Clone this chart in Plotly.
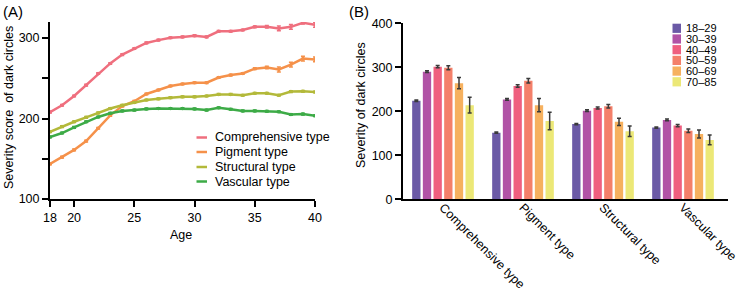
import plotly.graph_objects as go

# ---------------- Data ----------------
ages = list(range(18, 41))
comprehensive = [208, 216.5, 228, 241.5, 256, 268.5, 279.5, 287, 294, 297.5, 300.5, 301.5,
                 303, 301.5, 308.5, 308.5, 310, 314, 314, 312, 314, 319, 316.5]
pigment = [143.5, 152, 161, 172, 188, 204, 215.5, 221.5, 230.5, 235.5, 240.5, 243,
           244.5, 244.5, 251, 254, 256, 262, 263.5, 261, 267, 274.5, 273.5]
structural = [183.5, 190, 196, 201.5, 207, 212.5, 216.5, 220, 223, 224.5, 226, 227,
              227, 228, 230, 230, 229, 231.5, 231.5, 229, 233.5, 234, 233]
vascular = [177, 182, 189, 196, 202, 206.5, 209.5, 210.5, 212, 212.5, 212.5, 212.5,
            212, 210.5, 213.5, 211.5, 209.5, 209.5, 209, 208.5, 205, 205.5, 203.5]
comprehensive_err = [1] * 18 + [1.5, 3, 3, 1.5, 3]
pigment_err = [1] * 18 + [1.5, 3, 3, 3, 3]
structural_err = [1] * 23
vascular_err = [1] * 23

line_names = ["Comprehensive type", "Pigment type", "Structural type", "Vascular type"]
line_colors = ["#ef6f7e", "#f5914a", "#b3b93a", "#3dab47"]

types = ["Comprehensive type", "Pigment type", "Structural type", "Vascular type"]
age_groups = ["18–29", "30–39", "40–49", "50–59", "60–69", "70–85"]
bar_means = {
    "18–29": [224, 151.5, 171, 163],
    "30–39": [290, 227, 201.5, 180.5],
    "40–49": [301.5, 257.5, 207.5, 167.5],
    "50–59": [299, 269.5, 211.5, 156],
    "60–69": [264, 214, 176, 148.5],
    "70–85": [214, 178, 154.5, 135],
}
bar_errs = {
    "18–29": [1.5, 1.5, 1.5, 1.5],
    "30–39": [2, 2, 2, 2],
    "40–49": [2.5, 3, 2.5, 2.5],
    "50–59": [4.5, 5, 4, 4],
    "60–69": [13, 15, 8, 9],
    "70–85": [18, 20, 12, 11],
}
bar_colors = ["#6b5aa6", "#b153a6", "#ef5f7f", "#f4806a", "#f6b15f", "#ece877"]

# ---------------- Figure ----------------
W, H = 738, 292
FONT = "Arial, Liberation Sans, sans-serif"


def px(x):
    return x / W


def py(y):
    return 1 - y / H


fig = go.Figure()

series = [comprehensive, pigment, structural, vascular]
errs = [comprehensive_err, pigment_err, structural_err, vascular_err]
for name, vals, e, c in zip(line_names, series, errs, line_colors):
    fig.add_trace(go.Scatter(
        x=ages, y=vals, name=name, mode="lines+markers",
        line=dict(color=c, width=2.5), marker=dict(color=c, size=3.5),
        error_y=dict(type="data", array=e, color=c, thickness=1.5, width=2),
        xaxis="x", yaxis="y", showlegend=False))

for g, c in zip(age_groups, bar_colors):
    fig.add_trace(go.Bar(
        x=types, y=bar_means[g], name=g, marker=dict(color=c, line=dict(width=0)),
        error_y=dict(type="data", array=bar_errs[g], color="#3a3a3a", thickness=1.5, width=2),
        xaxis="x2", yaxis="y2", showlegend=False))

axis_common = dict(showgrid=False, zeroline=False, showline=True, linecolor="black",
                   linewidth=2, ticks="outside", ticklen=6, tickwidth=2, tickcolor="black",
                   tickfont=dict(size=12.5, color="black", family=FONT), automargin=False)

annotations = []
shapes = []

# Legend A (manual)
leg_a_y = [137.5, 152, 167, 181.5]
for name, c, yy in zip(line_names, line_colors, leg_a_y):
    shapes.append(dict(type="line", xref="paper", yref="paper",
                       x0=px(196.5), x1=px(207), y0=py(yy), y1=py(yy),
                       line=dict(color=c, width=2.5)))
    annotations.append(dict(text=name, xref="paper", yref="paper", x=px(213), y=py(yy),
                            xanchor="left", yanchor="middle", showarrow=False,
                            font=dict(size=12.5, color="black", family=FONT)))

# Legend B (manual)
leg_b_y = [28.3, 39, 49.7, 60.4, 71.1, 81.8]
for g, c, yy in zip(age_groups, bar_colors, leg_b_y):
    shapes.append(dict(type="rect", xref="paper", yref="paper",
                       x0=px(672.5), x1=px(681), y0=py(yy - 4.6), y1=py(yy + 4.6),
                       fillcolor=c, line=dict(width=0)))
    annotations.append(dict(text=g, xref="paper", yref="paper", x=px(683.5), y=py(yy),
                            xanchor="left", yanchor="middle", showarrow=False,
                            font=dict(size=11, color="black", family=FONT)))

# Panel labels and axis titles
annotations += [
    dict(text="(A)", xref="paper", yref="paper", x=px(1), y=py(12), xanchor="left",
         yanchor="middle", showarrow=False, font=dict(size=15, color="black", family=FONT)),
    dict(text="(B)", xref="paper", yref="paper", x=px(347), y=py(12), xanchor="left",
         yanchor="middle", showarrow=False, font=dict(size=15, color="black", family=FONT)),
    dict(text="Severity score  of dark circles", xref="paper", yref="paper", x=px(9),
         y=py(108), textangle=-90, xanchor="center", yanchor="middle", showarrow=False,
         font=dict(size=12.5, color="black", family=FONT)),
    dict(text="Severity of dark circles", xref="paper", yref="paper", x=px(361),
         y=py(105), textangle=-90, xanchor="center", yanchor="middle", showarrow=False,
         font=dict(size=12.5, color="black", family=FONT)),
    dict(text="Age", xref="paper", yref="paper", x=px(181), y=py(235),
         xanchor="center", yanchor="middle", showarrow=False,
         font=dict(size=12.5, color="black", family=FONT)),
]

fig.update_layout(
    template="none",
    width=W, height=H,
    margin=dict(l=0, r=0, t=0, b=0),
    paper_bgcolor="white", plot_bgcolor="white",
    font=dict(family=FONT, color="black", size=12.5),
    barmode="group", bargap=0.2, bargroupgap=0.22,
    showlegend=False,
    xaxis=dict(domain=[px(50), px(315)], range=[18, 40], tickvals=[18, 20, 25, 30, 35, 40],
               anchor="y", **axis_common),
    yaxis=dict(domain=[py(199), py(22)], range=[100, 320], tickvals=[100, 150, 200, 250, 300],
               ticktext=["100", "", "200", "", "300"], anchor="x", **axis_common),
    xaxis2=dict(domain=[px(403), px(728)], range=[-0.5, 3.5625], anchor="y2",
                tickangle=45, ticklabelstandoff=-6, **{**axis_common, "ticks": ""}),
    yaxis2=dict(domain=[py(199.3), py(23.3)], range=[0, 400], tickvals=[0, 100, 200, 300, 400],
                anchor="x2", **axis_common),
    annotations=annotations,
    shapes=shapes,
)

# Remove the default 8px page margin so the figure sits at the window's top-left corner.
fig.write_html("out.html", config={"displayModeBar": False},
               post_script="document.body.style.margin='0px';")
